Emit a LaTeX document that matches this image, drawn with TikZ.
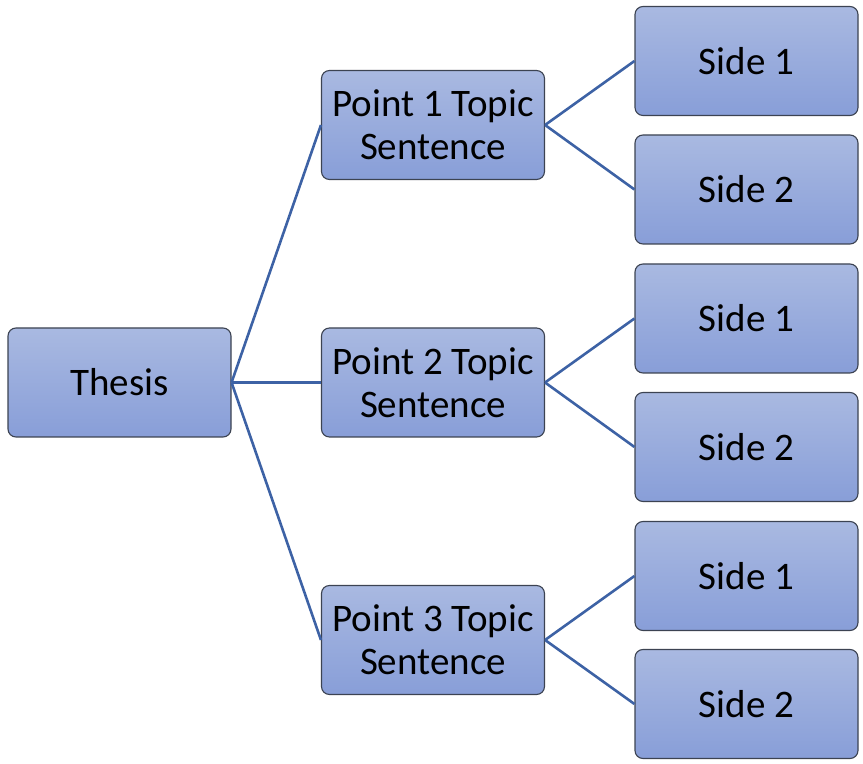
\documentclass[tikz,border=0pt]{standalone}
\usepackage{fontspec}
\setmainfont{Carlito}
\definecolor{boxtop}{HTML}{A9B9E1}
\definecolor{boxbot}{HTML}{889ED8}
\definecolor{boxline}{HTML}{3C4352}
\definecolor{linkcol}{HTML}{3D62A5}
\tikzset{
  box/.style={draw=boxline, line width=0.55pt, rounded corners=4pt, top color=boxtop, bottom color=boxbot,
    minimum width=111.5pt, minimum height=54.5pt, align=center, inner sep=0pt,
    font=\fontsize{19.5}{21.5}\selectfont},
  link/.style={draw=linkcol, line width=1.3pt}
}
\begin{document}
\begin{tikzpicture}[x=0.5pt,y=-0.5pt]
\useasboundingbox (0,0) rectangle (863,764);
\node[box] (tid0) at (119.5,382.5){Thesis};
\node[box] (pid1) at (433,125){Point 1 Topic\\Sentence};
\node[box] (pid2) at (433,382.5){Point 2 Topic\\Sentence};
\node[box] (pid3) at (433,640){Point 3 Topic\\Sentence};
\node[box] (sid11) at (746.5,61){Side 1};
\node[box] (sid12) at (746.5,189.5){Side 2};
\node[box] (sid21) at (746.5,318.5){Side 1};
\node[box] (sid22) at (746.5,447){Side 2};
\node[box] (sid31) at (746.5,576){Side 1};
\node[box] (sid32) at (746.5,704){Side 2};
\draw[link](tid0.east) -- (pid1.west);
\draw[link](tid0.east) -- (pid2.west);
\draw[link](tid0.east) -- (pid3.west);
\draw[link](pid1.east) -- (sid11.west);
\draw[link](pid1.east) -- (sid12.west);
\draw[link](pid2.east) -- (sid21.west);
\draw[link](pid2.east) -- (sid22.west);
\draw[link](pid3.east) -- (sid31.west);
\draw[link](pid3.east) -- (sid32.west);

\end{tikzpicture}
\end{document}
